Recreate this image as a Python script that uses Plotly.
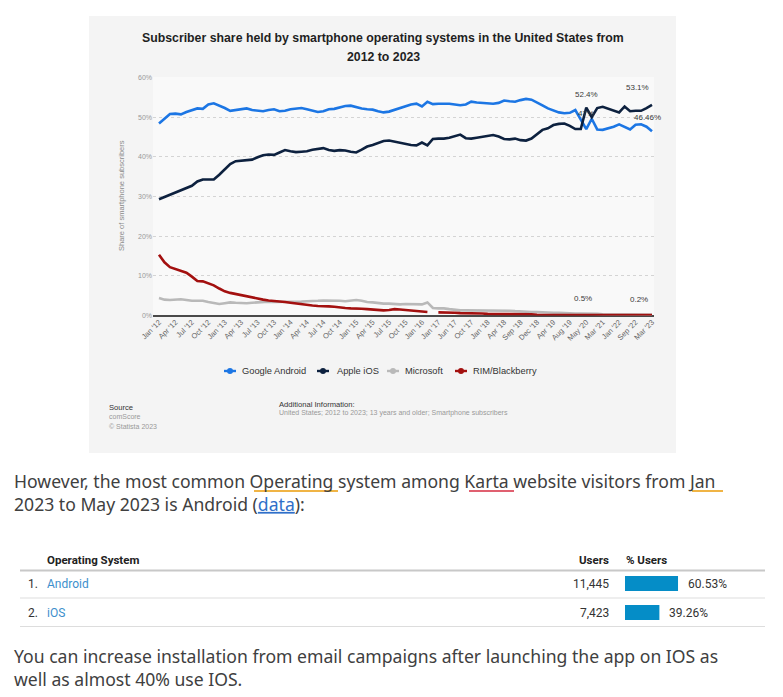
import plotly.graph_objects as go

W, H = 783, 697

# ---------------- data ----------------
tick_labels = ["Jan '12", "Apr '12", "Jul '12", "Oct '12", "Jan '13", "Apr '13", "Jul '13", "Oct '13",
               "Jan '14", "Apr '14", "Jul '14", "Oct '14", "Jan '15", "Apr '15", "Jul '15", "Oct '15",
               "Jan '16", "Jan '17", "Jun '17", "Oct '17", "Jan '18", "Apr '18", "Sep '18", "Dec '18",
               "Apr '19", "Aug '19", "May '20", "Mar '21", "Jan '22", "Sep '22", "Mar '23"]

android = [48.4, 49.6, 50.8, 50.9, 50.7, 51.3, 51.8, 52.2, 52.1, 53.2,
           53.5, 53.0, 52.3, 51.6, 51.8, 51.9, 52.2, 51.8, 51.6, 51.5,
           51.8, 52.0, 51.5, 51.6, 52.0, 52.1, 52.3, 52.0, 51.6, 51.3,
           51.5, 52.0, 52.1, 52.4, 52.8, 52.9, 52.5, 52.2, 52.0, 51.9,
           51.5, 51.2, 51.4, 51.9, 52.3, 52.9, 53.2, 53.4, 52.7, 53.9,
           53.3, 53.4, 53.4, 53.4, 53.2, 53.0, 53.2, 53.9, 53.7, 53.6,
           53.5, 53.4, 53.6, 54.2, 54.0, 53.9, 54.3, 54.6, 54.4, 53.8,
           53.0, 52.2, 51.7, 51.2, 51.0, 51.1, 51.8, 49.5, 47.0, 49.6,
           46.9, 46.8, 47.2, 47.6, 48.2, 47.5, 46.9, 48.1, 48.2, 47.6,
           46.46]

ios = [29.3, 29.9, 30.5, 31.1, 31.6, 32.2, 32.7, 33.8, 34.3, 34.3,
       34.3, 35.5, 36.8, 38.2, 38.9, 39.0, 39.2, 39.3, 39.9, 40.4,
       40.6, 40.5, 41.1, 41.7, 41.4, 41.2, 41.3, 41.4, 41.8, 42.0,
       42.2, 41.7, 41.5, 41.7, 41.6, 41.3, 41.1, 41.8, 42.6, 43.0,
       43.5, 44.0, 44.1, 43.8, 43.5, 43.3, 43.0, 42.9, 43.6, 42.9,
       44.5, 44.6, 44.6, 44.8, 45.2, 45.6, 44.7, 44.6, 44.8, 45.0,
       45.3, 45.5, 45.1, 44.5, 44.4, 44.6, 44.2, 44.1, 44.6, 45.6,
       46.8, 47.2, 48.0, 48.3, 48.4, 47.8, 47.0, 47.0, 52.4, 50.0,
       52.3, 52.6, 52.1, 51.5, 51.2, 52.7, 51.5, 51.6, 51.6, 52.3,
       53.1]

microsoft = [4.4, 4.0, 3.9, 4.0, 4.1, 3.9, 3.7, 3.7, 3.7, 3.4,
             3.1, 2.9, 3.1, 3.3, 3.2, 3.1, 3.1, 3.2, 3.3, 3.5,
             3.5, 3.4, 3.4, 3.4, 3.5, 3.5, 3.5, 3.6, 3.6, 3.7,
             3.8, 3.8, 3.7, 3.7, 3.6, 3.8, 3.9, 3.7, 3.4, 3.3,
             3.1, 3.0, 3.0, 2.9, 2.8, 2.9, 2.9, 2.8, 2.8, 3.3,
             1.9, 1.8, 1.8, 1.6, 1.4, 1.3, 1.3, 1.3, 1.3, 1.3,
             1.2, 1.2, 1.2, 1.2, 1.2, 1.1, 1.0, 1.0, 0.9, 0.9,
             0.8, 0.8, 0.7, 0.7, 0.6, 0.6, 0.5, 0.5, 0.5, 0.4,
             0.4, 0.3, 0.3, 0.3, 0.3, 0.3, 0.2, 0.2, 0.2, 0.2,
             0.2]

rim = [15.3, 13.4, 12.2, 11.7, 11.4, 10.8, 9.8, 8.7, 8.6, 8.1,
       7.6, 6.8, 6.1, 5.7, 5.4, 5.2, 4.8, 4.5, 4.3, 4.0,
       3.8, 3.7, 3.6, 3.4, 3.2, 3.0, 2.8, 2.6, 2.5, 2.4,
       2.4, 2.3, 2.2, 2.0, 1.9, 1.8, 1.8, 1.7, 1.6, 1.5,
       1.4, 1.3, 1.4, 1.6, 1.5, 1.4, 1.3, 1.2, 1.0, 0.9,
       None, 0.8, 0.8, 0.7, 0.7, 0.6, 0.6, 0.5, 0.5, 0.5,
       0.4, 0.4, 0.4, 0.4, 0.3, 0.3, 0.3, 0.3, 0.3, 0.2,
       0.2, 0.2, 0.2, 0.2, 0.2, 0.2, 0.2, 0.2, 0.2, 0.2,
       0.15, 0.15, 0.15, 0.15, 0.1, 0.1, 0.1, 0.1, 0.1, 0.1,
       0.1]

series_names = ["Google Android", "Apple iOS", "Microsoft", "RIM/Blackberry"]
series_colors = ["#1c76e4", "#0d213f", "#b9b9b9", "#a3100f"]
series_values = [android, ios, microsoft, rim]

os_names = ["Android", "iOS"]
os_users = ["11,445", "7,423"]
os_pct = [60.53, 39.26]

# ---------------- helpers ----------------
def px(x):
    return x / W

def py(y):
    return 1 - y / H

shapes = []
annotations = []

def text(x, y, s, size, color="#333", family="Liberation Sans", xanchor="left", yanchor="middle", **kw):
    annotations.append(dict(x=px(x), y=py(y), xref="paper", yref="paper", text=s, showarrow=False,
                            xanchor=xanchor, yanchor=yanchor, borderpad=0,
                            font=dict(size=size, color=color, family=family), **kw))

def hline(x0, x1, y, color, width=1):
    shapes.append(dict(type="line", xref="paper", yref="paper", x0=px(x0), x1=px(x1), y0=py(y), y1=py(y),
                       line=dict(color=color, width=width)))

# chart image background box
shapes.append(dict(type="rect", xref="paper", yref="paper", x0=px(89), x1=px(676), y0=py(453), y1=py(16),
                   fillcolor="#f4f4f4", line=dict(width=0), layer="below"))
shapes.append(dict(type="rect", xref="paper", yref="paper", x0=px(153), x1=px(654), y0=py(316), y1=py(77),
                   fillcolor="#f9f9f9", line=dict(width=0), layer="below"))

fig = go.Figure()
x_idx = list(range(len(android)))
for name, col, vals in zip(series_names, series_colors, series_values):
    fig.add_trace(go.Scatter(x=x_idx, y=vals, mode="lines", name=name,
                             line=dict(color=col, width=2.6, shape="linear"),
                             connectgaps=False, showlegend=False, hoverinfo="skip",
                             xaxis="x", yaxis="y"))

# table bars
fig.add_trace(go.Bar(x=os_pct, y=[0, 1], orientation="h", marker=dict(color="#058dc7", line=dict(width=0)),
                     width=0.52, showlegend=False, hoverinfo="skip", xaxis="x2", yaxis="y2"))

# ---------------- chart texts ----------------
text(383, 38, "<b>Subscriber share held by smartphone operating systems in the United States from</b>", 12.3, "#1f1f1f", xanchor="center")
text(383, 57, "<b>2012 to 2023</b>", 12.3, "#1f1f1f", xanchor="center")
annotations.append(dict(x=px(121), y=py(196), xref="paper", yref="paper", text="Share of smartphone subscribers",
                        textangle=-90, showarrow=False, xanchor="center", yanchor="middle",
                        font=dict(size=7.5, color="#8a8a8a", family="Liberation Sans")))

# data labels
def dlabel(i, v, s, xs, ys):
    annotations.append(dict(x=i, y=v, xref="x", yref="y", text=s, showarrow=False, xshift=xs, yshift=ys,
                            font=dict(size=8, color="#3a3a3a", family="Liberation Sans")))

dlabel(78, ios[78], "52.4%", 0, 13)
dlabel(78, android[78], "47%", 0, 16)
dlabel(90, ios[90], "53.1%", -15, 17)
dlabel(90, android[90], "46.46%", -5, 14)
dlabel(78, microsoft[78], "0.5%", -3, 15)
dlabel(90, microsoft[90], "0.2%", -13, 15)

# custom legend
leg_x = [230, 323, 393, 461]
txt_x = [241, 336, 404, 472]
for lx, tx, name, col in zip(leg_x, txt_x, series_names, series_colors):
    hline(lx - 6, lx + 6, 371, col, 2.4)
    shapes.append(dict(type="circle", xref="paper", yref="paper", x0=px(lx - 3), x1=px(lx + 3),
                       y0=py(374), y1=py(368), fillcolor=col, line=dict(width=0)))
    text(tx, 371, name, 9.3, "#333")

# source / additional info
text(108, 407, "Source", 7.6, "#333")
text(108, 416, "comScore", 7.0, "#999")
text(108, 426, "\u00a9 Statista 2023", 7.0, "#999")
text(278, 404, "Additional Information:", 7.6, "#333")
text(278, 413, "United States; 2012 to 2023; 13 years and older; Smartphone subscribers", 7.0, "#999")

# ---------------- page text ----------------
BODY = "Noto Sans"
BCOL = "#404040"
BS = 17.6
text(13, 492.5,
     "However, the most common Operating system among Karta website visitors from Jan<br>"
     "2023 to May 2023 is Android (<span style='color:#2f6fc9'><u>data</u></span>):",
     BS, BCOL, BODY, align="left")
hline(254, 338, 491, "#f0b445", 2)
hline(469, 514, 491, "#e06070", 2)
hline(692, 723, 491, "#f0b445", 2)

text(13, 667,
     "You can increase installation from email campaigns after launching the app on IOS as<br>"
     "well as almost 40% use IOS.",
     BS, BCOL, BODY, align="left")

# ---------------- table ----------------
TF = "Roboto"
text(46, 560, "<b>Operating System</b>", 11.5, "#222", TF)
text(610, 560, "<b>Users</b>", 11.5, "#222", TF, xanchor="right")
text(625, 560, "<b>% Users</b>", 11.5, "#222", TF)
hline(20, 765, 570.5, "#c8c8c8", 2)
hline(20, 765, 598, "#dddddd", 1)
hline(20, 765, 626.5, "#dddddd", 1)
row_y = [583.5, 612.5]
for k, (nm, us) in enumerate(zip(os_names, os_users)):
    text(27, row_y[k], f"{k + 1}.", 12, "#333", TF)
    text(46, row_y[k], nm, 12, "#3d8fcc", TF)
    text(610, row_y[k], us, 12, "#333", TF, xanchor="right")
for k, p in enumerate(os_pct):
    annotations.append(dict(x=p, y=k, xref="x2", yref="y2", text=f"{p:.2f}%", showarrow=False,
                            xanchor="left", xshift=8, font=dict(size=12, color="#333", family=TF)))

# ---------------- axes ----------------
x0p, x1p = 153, 654
scale = (652 - 159) / 90.0
xr = [-(159 - x0p) / scale, 90 + (x1p - 652) / scale]

fig.update_layout(
    width=W, height=H,
    margin=dict(l=0, r=0, t=0, b=0, pad=0, autoexpand=False),
    paper_bgcolor="white",
    plot_bgcolor="rgba(0,0,0,0)",
    showlegend=False,
    shapes=shapes,
    annotations=annotations,
    xaxis=dict(domain=[px(x0p), px(x1p)], range=xr, tickmode="array",
               tickvals=list(range(0, 91, 3)), ticktext=tick_labels, tickangle=-45,
               tickfont=dict(size=7.5, color="#666", family="Liberation Sans"),
               showgrid=False, zeroline=False, showline=False, ticks="", fixedrange=True,
               automargin=False),
    yaxis=dict(domain=[1 - 315.5 / H, 1 - 77.5 / H], range=[0, 60], dtick=10, ticksuffix="%",
               tickfont=dict(size=7, color="#999", family="Liberation Sans"),
               showgrid=True, gridcolor="#d4d4d4", griddash="dot", gridwidth=1,
               zeroline=True, zerolinecolor="#4a4a4a", zerolinewidth=1.6,
               showline=False, ticks="", fixedrange=True, automargin=False),
    xaxis2=dict(domain=[px(625), px(625 + 87.6)], range=[0, 100], visible=False, anchor="y2",
                automargin=False),
    yaxis2=dict(domain=[1 - 627 / H, 1 - 569 / H], range=[1.5, -0.5], visible=False, anchor="x2",
                automargin=False),
)

fig.write_html("out.html")
